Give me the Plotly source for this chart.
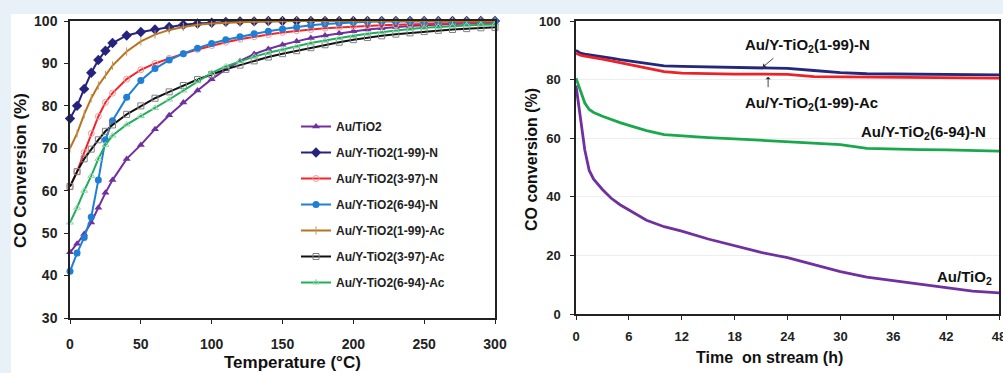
import plotly.graph_objects as go

# ---------------- Left panel data (light-off curves) ----------------
temperature = [0, 5, 10, 15, 20, 25, 30, 40, 50, 60, 70, 80, 90, 100, 110, 120, 130, 140,
               150, 160, 170, 180, 190, 200, 210, 220, 230, 240, 250, 260, 270, 280, 290, 300]

au_tio2 = [45.5, 47.5, 49.8, 52.5, 56.0, 59.5, 62.5, 67.5, 70.8, 74.5, 77.8, 80.8, 83.6, 86.3,
           88.6, 90.6, 92.2, 93.4, 94.4, 95.2, 96.0, 96.6, 97.1, 97.6, 98.0, 98.3, 98.6, 98.8,
           99.0, 99.2, 99.3, 99.4, 99.5, 99.6]
n_1_99 = [77.0, 80.0, 84.0, 87.8, 90.8, 93.0, 94.8, 96.6, 97.4, 98.0, 98.6, 99.1, 99.4, 99.6,
          99.8, 99.9, 99.9, 100, 100, 100, 100, 100, 100, 100, 100, 100, 100, 100,
          100, 100, 100, 100, 100, 100]
n_3_97 = [61.0, 64.5, 69.0, 73.5, 77.5, 80.8, 83.0, 86.3, 88.5, 90.0, 91.2, 92.3, 93.3, 94.2,
          95.0, 95.7, 96.3, 96.8, 97.3, 97.7, 98.0, 98.3, 98.5, 98.7, 98.9, 99.0, 99.1, 99.2,
          99.3, 99.4, 99.4, 99.5, 99.5, 99.6]
n_6_94 = [41.0, 45.3, 49.0, 53.8, 62.5, 72.0, 76.5, 82.0, 86.0, 88.8, 90.8, 92.3, 93.6, 94.7,
          95.6, 96.3, 97.0, 97.6, 98.1, 98.6, 99.0, 99.3, 99.5, 99.7, 99.8, 99.9, 99.9, 99.9,
          99.9, 99.9, 99.9, 99.9, 99.9, 99.9]
ac_1_99 = [70.0, 73.5, 78.0, 81.8, 84.8, 87.3, 89.5, 92.8, 95.2, 96.8, 97.9, 98.6, 99.1, 99.4,
           99.6, 99.7, 99.8, 99.9, 99.9, 100, 100, 100, 100, 100, 100, 100, 100, 100,
           100, 100, 100, 100, 100, 100]
ac_3_97 = [61.0, 64.5, 67.5, 69.8, 72.0, 74.0, 75.5, 78.0, 80.0, 81.8, 83.3, 84.8, 86.2, 87.4,
           88.6, 89.6, 90.6, 91.5, 92.3, 93.0, 93.7, 94.4, 95.0, 95.6, 96.1, 96.5, 96.9, 97.2,
           97.5, 97.8, 98.0, 98.2, 98.4, 98.5]
ac_6_94 = [52.5, 56.0, 60.0, 63.5, 67.5, 70.8, 73.0, 75.6, 77.6, 79.5, 81.5, 83.6, 85.8, 87.8,
           89.3, 90.5, 91.6, 92.5, 93.3, 94.1, 94.8, 95.4, 96.0, 96.5, 97.0, 97.4, 97.8, 98.1,
           98.4, 98.6, 98.8, 99.0, 99.1, 99.2]

left_names = ["Au/TiO2", "Au/Y-TiO2(1-99)-N", "Au/Y-TiO2(3-97)-N", "Au/Y-TiO2(6-94)-N",
              "Au/Y-TiO2(1-99)-Ac", "Au/Y-TiO2(3-97)-Ac", "Au/Y-TiO2(6-94)-Ac"]
x_ticks_left = [0, 50, 100, 150, 200, 250, 300]
y_ticks_left = [30, 40, 50, 60, 70, 80, 90, 100]

# ---------------- Right panel data (stability) ----------------
time_h = [0, 0.5, 1, 1.5, 2, 3, 4, 5, 6, 8, 10, 12, 15, 18, 21, 24, 27, 30, 33, 36, 39, 42, 45, 48]
st_n_1_99 = [90.0, 89.0, 88.7, 88.5, 88.3, 87.8, 87.3, 86.8, 86.4, 85.5, 84.7, 84.5, 84.3, 84.1,
             84.0, 83.8, 83.1, 82.4, 82.0, 81.9, 81.9, 81.8, 81.7, 81.6]
st_ac_1_99 = [89.0, 88.3, 88.0, 87.8, 87.5, 87.0, 86.4, 85.8, 85.2, 83.9, 82.7, 82.2, 82.0, 81.9,
              81.9, 81.8, 81.0, 80.9, 80.8, 80.7, 80.7, 80.6, 80.5, 80.5]
st_n_6_94 = [80.5, 76.0, 72.0, 69.8, 68.8, 67.5, 66.3, 65.3, 64.4, 62.6, 61.2, 60.7, 60.2, 59.8,
             59.3, 58.8, 58.4, 57.8, 56.5, 56.2, 56.1, 56.0, 55.8, 55.6]
st_au_tio2 = [78.0, 66.0, 56.0, 49.0, 46.0, 42.5, 39.5, 37.3, 35.5, 32.0, 29.8, 28.3, 25.6, 23.2,
              21.0, 19.2, 16.8, 14.5, 12.6, 11.3, 10.2, 9.0, 7.8, 7.2]
x_ticks_right = [0, 6, 12, 18, 24, 30, 36, 42, 48]
y_ticks_right = [0, 20, 40, 60, 80, 100]

# ---------------- Figure ----------------
W, H = 1003, 373
FONT = "Liberation Sans, Arial, sans-serif"


def px_x(p):
    return p / W


def px_y(p):
    return (H - p) / H


fig = go.Figure()

left_series = [au_tio2, n_1_99, n_3_97, n_6_94, ac_1_99, ac_3_97, ac_6_94]
line_colors = ["#7030a0", "#26237e", "#f2232a", "#1f7fd6", "#b8731f", "#111111", "#1fae5c"]
marker_styles = [
    dict(symbol="triangle-up", size=7, color="#7030a0"),
    dict(symbol="diamond", size=8, color="#26237e"),
    dict(symbol="circle-open", size=6, color="#f59a9a", line=dict(width=1)),
    dict(symbol="circle", size=7, color="#1f7fd6"),
    dict(symbol="line-ns-open", size=6, color="#c89a5a", line=dict(width=1)),
    dict(symbol="square-open", size=6, color="#808080", line=dict(width=1)),
    dict(symbol="triangle-up-open", size=6, color="#8fd6a8", line=dict(width=1)),
]

for i, (name, ys) in enumerate(zip(left_names, left_series)):
    fig.add_trace(go.Scatter(
        x=temperature, y=ys, name=name, mode="lines+markers",
        line=dict(color=line_colors[i], width=2),
        marker=marker_styles[i], cliponaxis=False,
        legendgroup=f"g{i}", xaxis="x", yaxis="y",
    ))

right_series = [st_n_1_99, st_ac_1_99, st_n_6_94, st_au_tio2]
right_colors = ["#23287a", "#ef2128", "#1aa84c", "#7030a0"]
for ys, c in zip(right_series, right_colors):
    fig.add_trace(go.Scatter(
        x=time_h, y=ys, mode="lines", line=dict(color=c, width=2.8),
        showlegend=False, xaxis="x2", yaxis="y2",
    ))

tick_font_l = dict(family=FONT, size=14, color="#222", weight="bold")
tick_font_r = dict(family=FONT, size=13, color="#222", weight="bold")

axis_common = dict(showline=True, mirror=True, linecolor="#222", linewidth=1.5,
                   ticks="outside", ticklen=4, tickcolor="#222", tickwidth=1.2,
                   showgrid=False, zeroline=False, automargin=False,
                   ticklabeloverflow="allow")

fig.update_layout(
    width=W, height=H,
    margin=dict(l=0, r=0, t=0, b=0),
    paper_bgcolor="#e8f0f8",
    plot_bgcolor="white",
    template="none",
    xaxis=dict(domain=[px_x(70), px_x(495)], range=[0, 300], tickvals=x_ticks_left,
               tickfont=tick_font_l, ticklabelstandoff=8, anchor="y", **axis_common),
    yaxis=dict(domain=[px_y(318), px_y(21)], range=[30, 100], tickvals=y_ticks_left,
               tickfont=tick_font_l, ticklabelstandoff=4, anchor="x", **axis_common),
    xaxis2=dict(domain=[px_x(576), px_x(999)], range=[0, 48], tickvals=x_ticks_right,
                tickfont=tick_font_r, ticklabelstandoff=6, anchor="y2", **axis_common),
    yaxis2=dict(domain=[px_y(314), px_y(21)], range=[0, 100], tickvals=y_ticks_right,
                tickfont=tick_font_r, ticklabelstandoff=7, anchor="x2", **axis_common),
    legend=dict(x=px_x(296), y=px_y(112), xanchor="left", yanchor="top",
                bgcolor="rgba(0,0,0,0)", traceorder="grouped", tracegroupgap=7,
                font=dict(family=FONT, size=12, color="#222", weight="bold"),
                itemwidth=30),
    showlegend=True,
)
fig.update_yaxes(showgrid=True, gridcolor="#eeeeee", gridwidth=1, selector=dict(anchor="x2"))

# white card behind the charts
fig.add_shape(type="rect", xref="paper", yref="paper", x0=px_x(11), x1=1.0, y0=0,
              y1=px_y(14), fillcolor="white", line=dict(width=0), layer="below")

title_font_l = dict(family=FONT, size=17, color="#111", weight="bold")
title_font_r = dict(family=FONT, size=16, color="#111", weight="bold")
ann = [
    dict(text="CO Conversion (%)", x=px_x(20), y=px_y(171), textangle=-90, font=title_font_l),
    dict(text="Temperature (°C)", x=px_x(292), y=px_y(362), font=title_font_l),
    dict(text="CO conversion (%)", x=px_x(532), y=px_y(160), textangle=-90, font=title_font_r),
    dict(text="Time\u00a0 on stream (h)", x=px_x(769), y=px_y(357), font=title_font_r),
]
for a in ann:
    fig.add_annotation(xref="paper", yref="paper", showarrow=False,
                       xanchor="center", yanchor="middle", **a)

lab_font = dict(family=FONT, size=15, color="#111", weight="bold")
labels = [
    ("Au/Y-TiO<sub>2</sub>(1-99)-N", 19.0, 91.8),
    ("Au/Y-TiO<sub>2</sub>(1-99)-Ac", 19.0, 72.0),
    ("Au/Y-TiO<sub>2</sub>(6-94)-N", 32.1, 62.1),
    ("Au/TiO<sub>2</sub>", 40.7, 12.6),
]
for t, x, y in labels:
    fig.add_annotation(xref="x2", yref="y2", x=x, y=y, text=t, showarrow=False,
                       xanchor="left", yanchor="middle", font=lab_font)

# small pointer arrows
fig.add_annotation(xref="x2", yref="y2", x=21.2, y=84.3, text="", showarrow=True,
                   ax=12, ay=-10, arrowhead=1, arrowsize=1, arrowwidth=0.9, arrowcolor="#333")
fig.add_annotation(xref="x2", yref="y2", x=21.8, y=81.0, text="", showarrow=True,
                   ax=0, ay=12, arrowhead=1, arrowsize=1, arrowwidth=0.9, arrowcolor="#333")

fig.write_html("out.html", config={"displayModeBar": False},
               post_script="document.body.style.margin='0px';")
